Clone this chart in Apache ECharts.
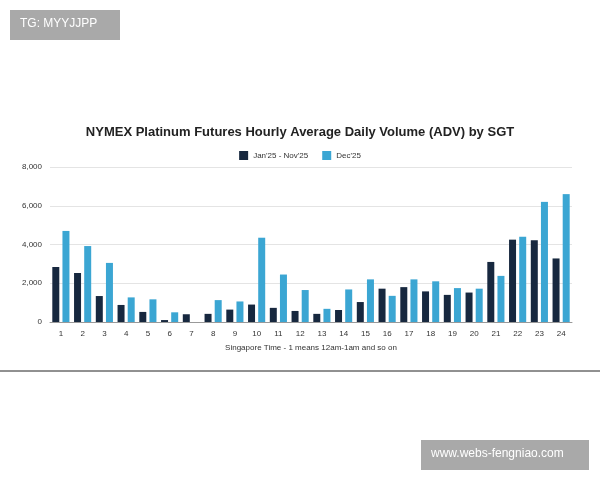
<!DOCTYPE html>
<html>
<head>
<meta charset="utf-8">
<script src="https://cdn.jsdelivr.net/npm/echarts@6/dist/echarts.min.js"></script>
<style>html,body{margin:0;padding:0;background:#fff}#main{width:600px;height:480px}</style>
</head>
<body>
<div id="main"></div>
<script>
const hours = ['1','2','3','4','5','6','7','8','9','10','11','12','13','14','15','16','17','18','19','20','21','22','23','24']
const janNov = [2840,2530,1340,880,520,100,400,420,640,900,730,570,420,620,1030,1720,1800,1580,1400,1520,3100,4250,4220,3280]
const dec = [4700,3920,3050,1270,1170,500,0,1130,1060,4350,2450,1650,680,1680,2200,1350,2200,2100,1750,1720,2380,4400,6200,6600]

const chart = echarts.init(document.getElementById('main'))
chart.setOption({
  animation: false,
  title: {
    text: 'NYMEX Platinum Futures Hourly Average Daily Volume (ADV) by SGT',
    left: 'center', top: 121,
    textStyle: { fontFamily: 'Arial', fontSize: 13, fontWeight: 'bold', color: '#222' }
  },
  legend: {
    top: 146, left: 'center', itemWidth: 9, itemHeight: 9, itemGap: 14,
    icon: 'rect',
    textStyle: { fontSize: 8, color: '#333' },
    data: ["Jan'25 - Nov'25", "Dec'25"]
  },
  grid: { left: 50, right: 28, top: 167, bottom: 158 },
  xAxis: {
    type: 'category', data: hours,
    name: 'Singapore Time - 1 means 12am-1am and so on',
    nameLocation: 'middle', nameGap: 22,
    nameTextStyle: { fontSize: 8, color: '#333' },
    axisTick: { show: false },
    axisLine: { lineStyle: { color: '#999' } },
    axisLabel: { fontSize: 8, color: '#333' }
  },
  yAxis: {
    type: 'value', min: 0, max: 8000, interval: 2000,
    axisLabel: { fontSize: 8, color: '#333', formatter: v => v.toLocaleString('en-US') },
    splitLine: { lineStyle: { color: '#e4e4e4' } }
  },
  series: [
    { name: "Jan'25 - Nov'25", type: 'bar', data: janNov, barWidth: 7, barGap: '45%', itemStyle: { color: '#17283f' } },
    { name: "Dec'25", type: 'bar', data: dec, barWidth: 7, itemStyle: { color: '#3ba6d3' } }
  ],
  graphic: [
    { type: 'rect', shape: { x: 10, y: 10, width: 110, height: 30 }, style: { fill: '#a9a9a9' } },
    { type: 'text', left: 20, top: 18, style: { text: 'TG: MYYJJPP', fill: '#fff', font: '12px Arial' } },
    { type: 'line', shape: { x1: 0, y1: 371, x2: 600, y2: 371 }, style: { stroke: '#222', lineWidth: 1 } },
    { type: 'rect', shape: { x: 421, y: 440, width: 168, height: 30 }, style: { fill: '#a9a9a9' } },
    { type: 'text', left: 431, top: 448, style: { text: 'www.webs-fengniao.com', fill: '#fff', font: '12px Arial' } }
  ]
})
</script>
</body>
</html>
